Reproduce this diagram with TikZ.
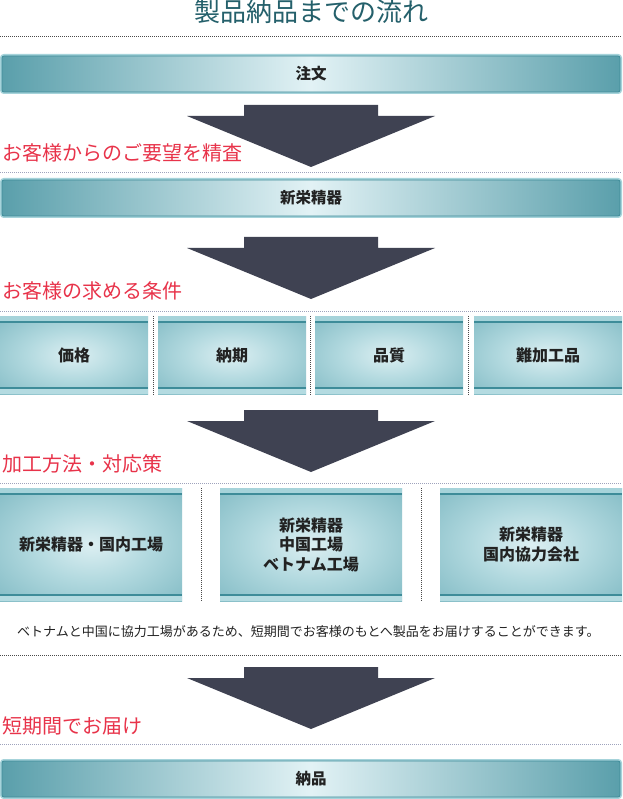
\documentclass[tikz,border=0pt]{standalone}
\usepackage{fontspec}
\setmainfont{Noto Sans CJK JP}
\usetikzlibrary{calc}
\definecolor{titlec}{HTML}{24606B}
\definecolor{redc}{HTML}{E8334A}
\definecolor{arrowc}{HTML}{3F4252}
\definecolor{tealdark}{HTML}{5A9FAB}
\definecolor{teallight}{HTML}{E2F2F5}
\definecolor{tealline}{HTML}{3E8C99}
\definecolor{tealband}{HTML}{A6D3DA}
\definecolor{bandlow}{HTML}{B4DBE1}
\definecolor{dotdark}{HTML}{4A4A4A}
\definecolor{dotlight}{HTML}{9EA3BC}
\definecolor{textc}{HTML}{222222}
\definecolor{sh0}{HTML}{DCEFF2}
\definecolor{sh1}{HTML}{B2D9DF}
\definecolor{sh2}{HTML}{8AC0C9}
\definecolor{sh3}{HTML}{66A8B2}
\definecolor{sh4}{HTML}{5AA0AB}
\pgfdeclareradialshading{tealradial}{\pgfpoint{0bp}{0bp}}{color(0bp)=(sh0); color(16bp)=(sh1); color(33bp)=(sh2); color(50bp)=(sh3); color(75bp)=(sh4)}
\tikzset{
  titlenode/.style={font=\fontsize{26}{31}\selectfont, text=titlec, inner sep=0pt},
  headlabel/.style={font=\fontsize{20}{24}\selectfont, text=redc, inner sep=0pt, anchor=west},
  notetext/.style={font=\fontsize{13}{16}\selectfont, text=textc, inner sep=0pt, anchor=west},
  hdots/.style={draw=dotlight, line width=0.8pt, dash pattern=on 1pt off 1pt},
  hdotsdark/.style={draw=dotdark, line width=0.8pt, dash pattern=on 1pt off 1pt},
  vdots/.style={draw=dotdark, line width=0.8pt, dash pattern=on 1pt off 1pt},
  barbox/.style={rectangle, minimum width=618pt, minimum height=36pt, inner sep=0pt,
    left color=tealdark, right color=tealdark, middle color=teallight,
    draw=tealline, line width=0.8pt, rounded corners=2pt,
    preaction={draw=tealband, line width=4pt},
    font=\fontsize{15.5}{18}\selectfont\bfseries, text=textc},
  tealbox/.style={rectangle, inner sep=0pt, shading=tealradial,
    align=center, font=\fontsize{16}{19.5}\selectfont\bfseries, text=textc,
    path picture={
      \fill[tealband] (path picture bounding box.north west) rectangle ([yshift=-5pt]path picture bounding box.north east);
      \fill[tealline] ([yshift=-5pt]path picture bounding box.north west) rectangle ([yshift=-7pt]path picture bounding box.north east);
      \fill[bandlow] (path picture bounding box.south west) rectangle ([yshift=5pt]path picture bounding box.south east);
      \fill[tealline] ([yshift=5pt]path picture bounding box.south west) rectangle ([yshift=7pt]path picture bounding box.south east);
    }},
  condbox/.style={tealbox, minimum width=148pt, minimum height=78pt},
  methbox/.style={tealbox, minimum width=182pt, minimum height=113pt},
  bigarrow/.pic={
    \fill[arrowc] (-67,0) -- (67,0) -- (67,11) -- (124,11) -- (0,62) -- (-124,11) -- (-67,11) -- cycle;
  }
}
\begin{document}
\begin{tikzpicture}[x=1pt,y=-1pt]
\useasboundingbox[fill=white] (0,0) rectangle (622,799);

% title
\node[titlenode] (title) at (311,12) {製品納品までの流れ};
\coordinate (l0a) at (0,36); \coordinate (l0b) at (622,36);
\draw[hdotsdark] (l0a) -- (l0b);

% order bar
\node[barbox] (order) at (311,74) {注文};
\pic (arr1) at (311,105) {bigarrow};
\node[headlabel] (lab1) at (2,153) {お客様からのご要望を精査};
\coordinate (l1a) at (0,172); \coordinate (l1b) at (622,172);
\draw[hdots] (l1a) -- (l1b);

% company bar
\node[barbox] (company) at (311,198) {新栄精器};
\pic (arr2) at (311,237) {bigarrow};
\node[headlabel] (lab2) at (2,291) {お客様の求める条件};
\coordinate (l2a) at (0,311); \coordinate (l2b) at (622,311);
\draw[hdots] (l2a) -- (l2b);

% conditions
\node[condbox] (c1) at (74,355) {価格};
\node[condbox] (c2) at (232,355) {納期};
\node[condbox] (c3) at (389,355) {品質};
\node[condbox] (c4) at (548,355) {難加工品};
\draw[vdots] ($(c1.north east)!0.5!(c2.north west)$) -- ($(c1.south east)!0.5!(c2.south west)$);
\draw[vdots] ($(c2.north east)!0.5!(c3.north west)$) -- ($(c2.south east)!0.5!(c3.south west)$);
\draw[vdots] ($(c3.north east)!0.5!(c4.north west)$) -- ($(c3.south east)!0.5!(c4.south west)$);

\pic (arr3) at (311,410) {bigarrow};
\node[headlabel] (lab3) at (2,464) {加工方法・対応策};
\coordinate (l3a) at (0,483); \coordinate (l3b) at (622,483);
\draw[hdots] (l3a) -- (l3b);

% methods
\node[methbox] (m1) at (91,544.5) {新栄精器・国内工場};
\node[methbox] (m2) at (311,544.5) {新栄精器\\中国工場\\ベトナム工場};
\node[methbox] (m3) at (531,544.5) {新栄精器\\国内協力会社};
\draw[vdots] ($(m1.north east)!0.5!(m2.north west)$) -- ($(m1.south east)!0.5!(m2.south west)$);
\draw[vdots] ($(m2.north east)!0.5!(m3.north west)$) -- ($(m2.south east)!0.5!(m3.south west)$);

\node[notetext] (note) at (17,632) {ベトナムと中国に協力工場があるため、短期間でお客様のもとへ製品をお届けすることができます。};
\coordinate (l4a) at (0,655); \coordinate (l4b) at (622,655);
\draw[hdotsdark] (l4a) -- (l4b);

\pic (arr4) at (311,667) {bigarrow};
\node[headlabel] (lab4) at (2,726) {短期間でお届け};
\coordinate (l5a) at (0,744); \coordinate (l5b) at (622,744);
\draw[hdots] (l5a) -- (l5b);

% delivery bar
\node[barbox] (delivery) at (311,779) {納品};
\end{tikzpicture}
\end{document}
